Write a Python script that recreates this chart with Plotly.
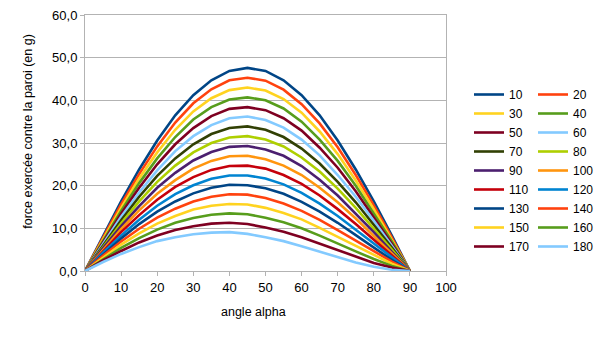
import plotly.graph_objects as go

# angle alpha (degrees), sampled every 5°
angles = [0, 5, 10, 15, 20, 25, 30, 35, 40, 45, 50, 55, 60, 65, 70, 75, 80, 85, 90]

# force against the wall (g), one list per series
f10 = [0, 8.3, 16.3, 23.8, 30.6, 36.5, 41.2, 44.7, 46.9, 47.6, 46.9, 44.7, 41.2, 36.5, 30.6, 23.8, 16.3, 8.3, 0]
f20 = [0, 7.9, 15.6, 22.7, 29.2, 34.8, 39.3, 42.6, 44.7, 45.3, 44.6, 42.5, 39.1, 34.6, 29.0, 22.5, 15.4, 7.8, 0]
f30 = [0, 7.5, 14.8, 21.7, 27.8, 33.1, 37.4, 40.5, 42.4, 43.0, 42.3, 40.3, 37.1, 32.7, 27.4, 21.2, 14.5, 7.3, 0]
f40 = [0, 7.2, 14.1, 20.6, 26.4, 31.4, 35.5, 38.4, 40.2, 40.7, 40.0, 38.1, 35.0, 30.8, 25.8, 20.0, 13.6, 6.9, 0]
f50 = [0, 6.8, 13.4, 19.5, 25.0, 29.7, 33.5, 36.3, 38.0, 38.4, 37.7, 35.8, 32.9, 28.9, 24.2, 18.7, 12.7, 6.4, 0]
f60 = [0, 6.5, 12.7, 18.4, 23.6, 28.1, 31.6, 34.2, 35.8, 36.2, 35.4, 33.6, 30.8, 27.1, 22.5, 17.4, 11.8, 5.9, 0]
f70 = [0, 6.1, 11.9, 17.4, 22.3, 26.4, 29.7, 32.1, 33.5, 33.9, 33.1, 31.4, 28.7, 25.2, 20.9, 16.1, 10.9, 5.5, 0]
f80 = [0, 5.7, 11.2, 16.3, 20.9, 24.7, 27.8, 30.0, 31.3, 31.6, 30.8, 29.2, 26.6, 23.3, 19.3, 14.8, 10.0, 5.0, 0]
f90 = [0, 5.4, 10.5, 15.2, 19.5, 23.0, 25.9, 27.9, 29.1, 29.3, 28.5, 27.0, 24.6, 21.4, 17.7, 13.5, 9.1, 4.5, 0]
f100 = [0, 5.0, 9.8, 14.2, 18.1, 21.3, 24.0, 25.8, 26.9, 27.0, 26.2, 24.7, 22.5, 19.5, 16.1, 12.3, 8.2, 4.1, 0]
f110 = [0, 4.6, 9.1, 13.1, 16.7, 19.7, 22.0, 23.7, 24.6, 24.7, 24.0, 22.5, 20.4, 17.7, 14.5, 11.0, 7.3, 3.6, 0]
f120 = [0, 4.3, 8.3, 12.0, 15.3, 18.0, 20.1, 21.6, 22.4, 22.4, 21.7, 20.3, 18.3, 15.8, 12.9, 9.7, 6.4, 3.1, 0]
f130 = [0, 3.9, 7.6, 11.0, 13.9, 16.3, 18.2, 19.5, 20.2, 20.1, 19.4, 18.1, 16.2, 13.9, 11.3, 8.4, 5.5, 2.6, 0]
f140 = [0, 3.6, 6.9, 9.9, 12.5, 14.6, 16.3, 17.4, 18.0, 17.9, 17.1, 15.8, 14.1, 12.0, 9.6, 7.1, 4.6, 2.2, 0]
f150 = [0, 3.2, 6.2, 8.8, 11.1, 12.9, 14.4, 15.3, 15.7, 15.6, 14.8, 13.6, 12.1, 10.1, 8.0, 5.8, 3.7, 1.7, 0]
f160 = [0, 2.8, 5.4, 7.7, 9.7, 11.3, 12.4, 13.2, 13.5, 13.3, 12.5, 11.4, 10.0, 8.3, 6.4, 4.6, 2.8, 1.2, 0]
f170 = [0, 2.5, 4.7, 6.7, 8.3, 9.6, 10.5, 11.1, 11.3, 11.0, 10.2, 9.2, 7.9, 6.4, 4.8, 3.3, 1.9, 0.8, 0]
f180 = [0, 2.1, 4.0, 5.6, 7.0, 7.9, 8.6, 9.0, 9.1, 8.7, 7.9, 7.0, 5.8, 4.5, 3.2, 2.0, 1.0, 0.3, 0]

series_names = ["10", "20", "30", "40", "50", "60", "70", "80", "90",
                "100", "110", "120", "130", "140", "150", "160", "170", "180"]
series_values = [f10, f20, f30, f40, f50, f60, f70, f80, f90,
                 f100, f110, f120, f130, f140, f150, f160, f170, f180]

palette = ["#004586", "#ff420e", "#ffd320", "#579d1c", "#7e0021", "#83caff",
           "#314004", "#aecf00", "#4b1f6f", "#ff950e", "#c5000b", "#0084d1"]

FONT = "Liberation Sans"
GRID = "#b3b3b3"

fig = go.Figure()
for i, (name, vals) in enumerate(zip(series_names, series_values)):
    fig.add_trace(go.Scatter(
        x=angles, y=vals, name=name, mode="lines",
        line=dict(color=palette[i % len(palette)], width=2.6),
        # two legend columns: left column 10, 30, ..., right column 20, 40, ...
        legend="legend" if i % 2 == 0 else "legend2",
        hoverinfo="x+y+name",
    ))

legend_common = dict(
    xref="container", yref="container", xanchor="left", yanchor="top",
    orientation="v", traceorder="normal", maxheight=320,
    font=dict(family=FONT, size=12, color="#000000"),
    bgcolor="rgba(0,0,0,0)", borderwidth=0,
)

fig.update_layout(
    width=605, height=340,
    margin=dict(l=85, r=159, t=15, b=68.5, autoexpand=False),
    paper_bgcolor="white", plot_bgcolor="white",
    separators=", ",
    font=dict(family=FONT, size=13, color="#000000"),
    showlegend=True,
    legend=dict(x=469 / 605, y=1 - 80 / 340, **legend_common),
    legend2=dict(x=533 / 605, y=1 - 80 / 340, **legend_common),
    xaxis=dict(
        range=[0, 100], dtick=10, tick0=0,
        showgrid=False, zeroline=False,
        showline=True, linecolor=GRID, linewidth=1, mirror=True,
        ticks="outside", ticklen=4, tickcolor=GRID,
        tickfont=dict(family=FONT, size=13, color="#000000"),
    ),
    yaxis=dict(
        range=[0, 60], dtick=10, tick0=0, tickformat=".1f",
        showgrid=True, gridcolor=GRID, gridwidth=1, zeroline=False,
        showline=True, linecolor=GRID, linewidth=1, mirror=True,
        ticks="outside", ticklen=4, tickcolor=GRID,
        tickfont=dict(family=FONT, size=13, color="#000000"),
    ),
    annotations=[
        dict(text="angle alpha", xref="paper", yref="paper",
             x=(253 - 85) / 360.7, y=(271.5 - 313) / 256.5,
             showarrow=False, xanchor="center", yanchor="middle",
             font=dict(family=FONT, size=12.5, color="#000000")),
        dict(text="force exercée contre la paroi (en g)", xref="paper", yref="paper",
             x=(28 - 85) / 360.7, y=(271.5 - 131) / 256.5, textangle=-90,
             showarrow=False, xanchor="center", yanchor="middle",
             font=dict(family=FONT, size=12.5, color="#000000")),
    ],
)

fig.write_html("out.html")
